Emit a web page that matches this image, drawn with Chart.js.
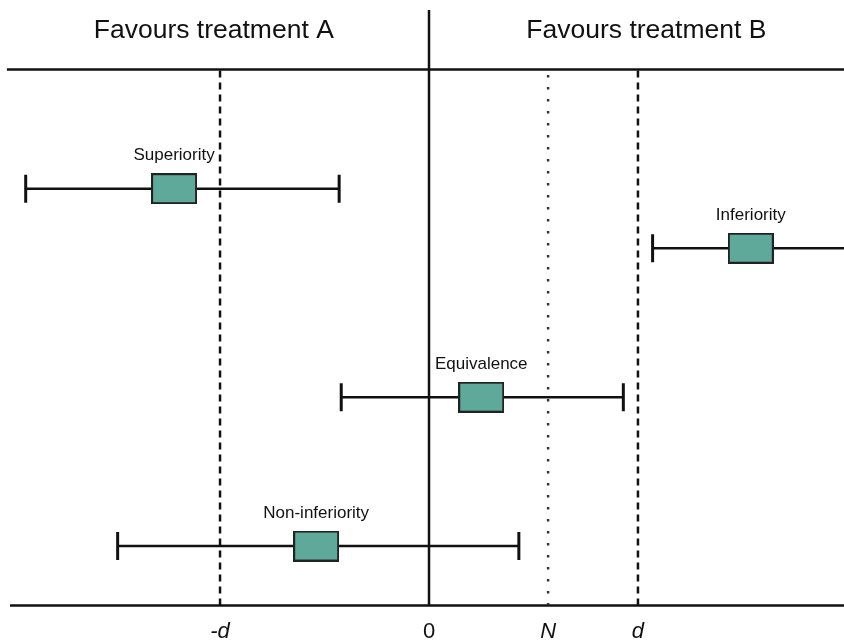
<!DOCTYPE html>
<html>
<head>
<meta charset="utf-8">
<script src="https://cdn.jsdelivr.net/npm/chart.js@4/dist/chart.umd.min.js"></script>
<style>
  html, body { margin: 0; padding: 0; background: #fff; }
  #wrap { width: 844px; height: 641px; }
</style>
</head>
<body>
<div id="wrap"><canvas id="chart-trials"></canvas></div>
<script>
// x in units of the margin d (0 = no difference), y = row height
var trials = ['Superiority', 'Inferiority', 'Equivalence', 'Non-inferiority'];
var rows = [2.8, 2.4, 1.4, 0.4];
var estimates = [-1.22, 1.54, 0.25, -0.54];
var lowers = [-1.93, 1.07, -0.42, -1.49];
var uppers = [-0.43, 2.2, 0.93, 0.43];

var tickValues = [-1, 0, 0.57, 1];
var tickLabels = ['-d', '0', 'N', 'd'];
var margin = 1;
var nullLine = 0.57;

var headers = ['Favours treatment A', 'Favours treatment B'];
var headerX = [-1.03, 1.04];
var headerRow = 3.6;

var xMin = -2.053, xMax = 1.986;

// box used as point style for the estimate
function makeBox() {
  var c = document.createElement('canvas');
  c.width = 46; c.height = 31;
  var g = c.getContext('2d');
  g.fillStyle = '#5ea99a';
  g.fillRect(0, 0, 46, 31);
  g.strokeStyle = '#222';
  g.lineWidth = 2;
  g.strokeRect(1, 1, 44, 29);
  return c;
}
var box = makeBox();

var datasets = [];

// estimate boxes (lowest order = drawn on top)
datasets.push({
  type: 'scatter',
  order: -1,
  data: trials.map(function(t, i) { return {x: estimates[i], y: rows[i]}; }),
  pointStyle: box,
  pointRadius: 20
});

// reference lines
datasets.push({ data: [{x: 0, y: 0}, {x: 0, y: 4}], borderColor: '#111', borderWidth: 2.5, pointRadius: 0 });
datasets.push({ data: [{x: -margin, y: 0}, {x: -margin, y: headerRow}], borderColor: '#111', borderWidth: 2.5, borderDash: [7, 5], pointRadius: 0 });
datasets.push({ data: [{x: margin, y: 0}, {x: margin, y: headerRow}], borderColor: '#111', borderWidth: 2.5, borderDash: [7, 5], pointRadius: 0 });
datasets.push({ data: [{x: nullLine, y: 0}, {x: nullLine, y: headerRow}], borderColor: '#333', borderWidth: 2.5, borderDash: [2.5, 9.5], pointRadius: 0 });
datasets.push({ data: [{x: -2.02, y: headerRow}, {x: xMax, y: headerRow}], borderColor: '#111', borderWidth: 2.5, pointRadius: 0 });
datasets.push({ data: [{x: -2.005, y: 0}, {x: xMax, y: 0}], borderColor: '#111', borderWidth: 2.5, pointRadius: 0, clip: false });

// intervals with end caps
for (var i = 0; i < trials.length; i++) {
  datasets.push({
    data: [{x: lowers[i], y: rows[i]}, {x: uppers[i], y: rows[i]}],
    borderColor: '#111',
    borderWidth: 2.5,
    pointStyle: 'line',
    rotation: 90,
    pointRadius: 14,
    pointBorderWidth: 3,
    pointBorderColor: '#111'
  });
}

var labelPlugin = {
  id: 'labels',
  afterDatasetsDraw: function(chart) {
    var ctx = chart.ctx;
    var xs = chart.scales.x, ys = chart.scales.y;
    ctx.save();
    ctx.fillStyle = '#111';
    ctx.textAlign = 'center';
    ctx.textBaseline = 'middle';
    ctx.font = '17px "Liberation Sans", Arial, sans-serif';
    for (var i = 0; i < trials.length; i++) {
      ctx.fillText(trials[i], xs.getPixelForValue(estimates[i]), ys.getPixelForValue(rows[i]) - 33);
    }
    ctx.font = '26.5px "Liberation Sans", Arial, sans-serif';
    for (var j = 0; j < headers.length; j++) {
      ctx.fillText(headers[j], xs.getPixelForValue(headerX[j]), 31);
    }
    ctx.restore();
  }
};

new Chart(document.getElementById('chart-trials'), {
  type: 'line',
  data: { datasets: datasets },
  options: {
    responsive: true,
    maintainAspectRatio: false,
    animation: false,
    layout: { autoPadding: false, padding: { top: 10, left: 0, right: 0, bottom: -17 } },
    plugins: { legend: { display: false }, tooltip: { enabled: false } },
    scales: {
      x: {
        type: 'linear',
        min: xMin,
        max: xMax,
        grid: { display: false, drawTicks: false },
        border: { display: false },
        afterBuildTicks: function(axis) {
          axis.ticks = tickValues.map(function(v) { return {value: v}; });
        },
        afterFit: function(axis) {
          axis.paddingLeft = 0;
          axis.paddingRight = 0;
        },
        ticks: {
          padding: 13,
          color: '#111',
          autoSkip: false,
          maxRotation: 0,
          font: function(c) {
            return { size: 22, family: '"Liberation Sans", Arial, sans-serif', style: c.tick && c.tick.value === 0 ? 'normal' : 'italic' };
          },
          callback: function(v, idx) { return tickLabels[idx]; }
        }
      },
      y: { type: 'linear', min: 0, max: 4, display: false }
    }
  },
  plugins: [labelPlugin]
});
</script>
</body>
</html>
